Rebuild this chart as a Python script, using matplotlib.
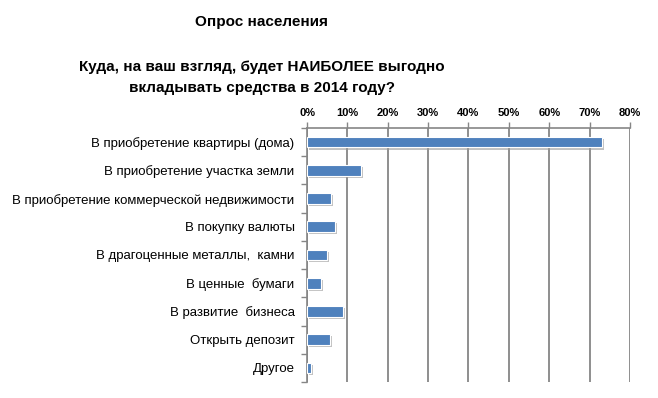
import matplotlib
matplotlib.use("Agg")
import matplotlib.pyplot as plt
import matplotlib.patheffects as pe
import numpy as np

# данные опроса
CATEGORIES = [
    "В приобретение квартиры (дома)",
    "В приобретение участка земли",
    "В приобретение коммерческой недвижимости",
    "В покупку валюты",
    "В драгоценные металлы,  камни",
    "В ценные  бумаги",
    "В развитие  бизнеса",
    "Открыть депозит",
    "Другое",
]
VALUES = [73.0, 13.3, 5.9, 6.9, 5.0, 3.5, 8.9, 5.6, 1.0]
XTICKS = [0, 10, 20, 30, 40, 50, 60, 70, 80]

TITLE = "Опрос населения"
SUBTITLE_1 = "Куда, на ваш взгляд, будет НАИБОЛЕЕ выгодно"
SUBTITLE_2 = "вкладывать средства в 2014 году?"

plt.rcParams["font.family"] = ["Liberation Sans", "DejaVu Sans"]

fig = plt.figure(figsize=(6.58, 3.98), dpi=100)
ax = fig.add_axes([0.4666, 0.0402, 0.4908, 0.6382])

y = np.arange(len(CATEGORIES))
bars = ax.barh(y, VALUES, height=0.38, color="#4F81BD", edgecolor="white",
               linewidth=0.8, zorder=3)
for b in bars:
    b.set_path_effects([pe.SimplePatchShadow(offset=(1.5, -1.5), shadow_rgbFace="#9a9a9a", alpha=0.6),
                        pe.Normal()])

ax.set_xlim(0, 80)
ax.set_ylim(len(CATEGORIES) - 0.5, -0.5)
ax.set_xticks(XTICKS)
ax.set_xticklabels([f"{t}%" for t in XTICKS], fontsize=8, fontweight="bold")
ax.xaxis.tick_top()
ax.set_yticks(y)
ax.set_yticklabels(CATEGORIES, fontsize=9.5, color="black")
ax.set_yticks(np.arange(len(CATEGORIES) + 1) - 0.5, minor=True)

ax.grid(axis="x", color="#868686", linewidth=1.3, zorder=0)
ax.tick_params(axis="y", which="major", length=0, pad=9)
ax.tick_params(axis="y", which="minor", length=4, color="#868686", width=1)
ax.tick_params(axis="x", length=4, color="#868686", width=1, pad=3)

for s in ["right", "bottom"]:
    ax.spines[s].set_visible(False)
for s in ["top", "left"]:
    ax.spines[s].set_color("#868686")
    ax.spines[s].set_linewidth(1.2)

fig.text(0.398, 1 - 22 / 398, TITLE, ha="center", va="center",
         fontsize=11, fontweight="bold")
fig.text(0.398, 1 - 67 / 398, SUBTITLE_1, ha="center", va="center",
         fontsize=11, fontweight="bold")
fig.text(0.398, 1 - 88 / 398, SUBTITLE_2, ha="center", va="center",
         fontsize=11, fontweight="bold")

fig.savefig("out.png", dpi=100)
